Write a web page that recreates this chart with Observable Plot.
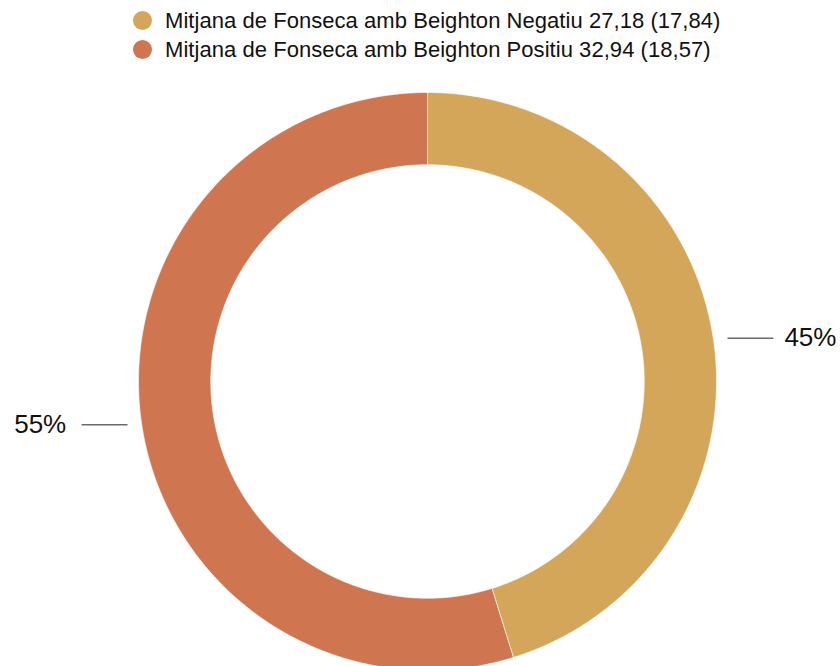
<!DOCTYPE html>
<html>
<head>
<meta charset="utf-8">
<script src="https://cdn.jsdelivr.net/npm/d3@7"></script>
<script src="https://cdn.jsdelivr.net/npm/@observablehq/plot@0.6"></script>
<style>
  html, body { margin: 0; padding: 0; background: #fff; overflow: hidden; }
  body { width: 840px; height: 666px; position: relative; font-family: "Liberation Sans", Arial, Helvetica, sans-serif; }
  #legend { position: absolute; left: 133px; top: 6px; font-size: 22px; letter-spacing: 0.05px; color: #111; line-height: 29px; }
  #legend .row { display: flex; align-items: center; white-space: nowrap; }
  #legend .dot { width: 19px; height: 19px; border-radius: 50%; margin-right: 13px; }
  #chart { position: absolute; left: 0; top: 0; }
</style>
</head>
<body>
<div id="chart"></div>
<div id="legend"></div>
<script>
const categories = ["Mitjana de Fonseca amb Beighton Negatiu 27,18 (17,84)", "Mitjana de Fonseca amb Beighton Positiu 32,94 (18,57)"];
const values = [27.18, 32.94];
const percentLabels = ["45%", "55%"];
const colors = ["#D4A65A", "#CF7650"];

const innerRatio = 0.75;

// slices via d3.pie (clockwise from 12 o'clock)
const pie = d3.pie().sort(null).value(d => d.value)(categories.map((c, i) => ({category: c, value: values[i], color: colors[i], label: percentLabels[i]})));

const ringPoints = [];
pie.forEach((s, k) => {
  const n = 240;
  const outer = d3.range(n + 1).map(j => s.startAngle + (s.endAngle - s.startAngle) * j / n);
  outer.forEach(a => ringPoints.push({slice: k, color: s.data.color, x: Math.sin(a), y: Math.cos(a)}));
  outer.slice().reverse().forEach(a => ringPoints.push({slice: k, color: s.data.color, x: innerRatio * Math.sin(a), y: innerRatio * Math.cos(a)}));
});

const labelData = pie.map(s => {
  const mid = (s.startAngle + s.endAngle) / 2;
  const side = Math.sin(mid) >= 0 ? 1 : -1;
  return {label: s.data.label, side, y: Math.cos(mid), x1: side * 1.038, x2: side * 1.197, xt: side * (side > 0 ? 1.235 : 1.25)};
});

const chart = Plot.plot({
  width: 840,
  height: 666,
  margin: 0,
  x: {domain: [-1, 1], range: [138, 716], axis: null},
  y: {domain: [1, -1], range: [92, 670], axis: null},
  style: {fontFamily: "'Liberation Sans', Arial, sans-serif", background: "transparent", overflow: "hidden"},
  marks: [
    Plot.line(ringPoints, {x: "x", y: "y", z: "slice", fill: "color", stroke: "white", strokeWidth: 0.6, curve: "linear-closed"}),
    Plot.link(labelData, {x1: "x1", x2: "x2", y1: "y", y2: "y", stroke: "#222", strokeWidth: 1}),
    Plot.text(labelData.filter(d => d.side > 0), {x: "xt", y: "y", text: "label", textAnchor: "start", fontSize: 26, fill: "#111"}),
    Plot.text(labelData.filter(d => d.side < 0), {x: "xt", y: "y", text: "label", textAnchor: "end", fontSize: 26, fill: "#111"})
  ]
});
document.getElementById("chart").appendChild(chart);

const legend = document.getElementById("legend");
categories.forEach((c, i) => {
  const row = document.createElement("div");
  row.className = "row";
  const dot = document.createElement("span");
  dot.className = "dot";
  dot.style.background = colors[i];
  const t = document.createElement("span");
  t.textContent = c;
  row.appendChild(dot);
  row.appendChild(t);
  legend.appendChild(row);
});
</script>
</body>
</html>
